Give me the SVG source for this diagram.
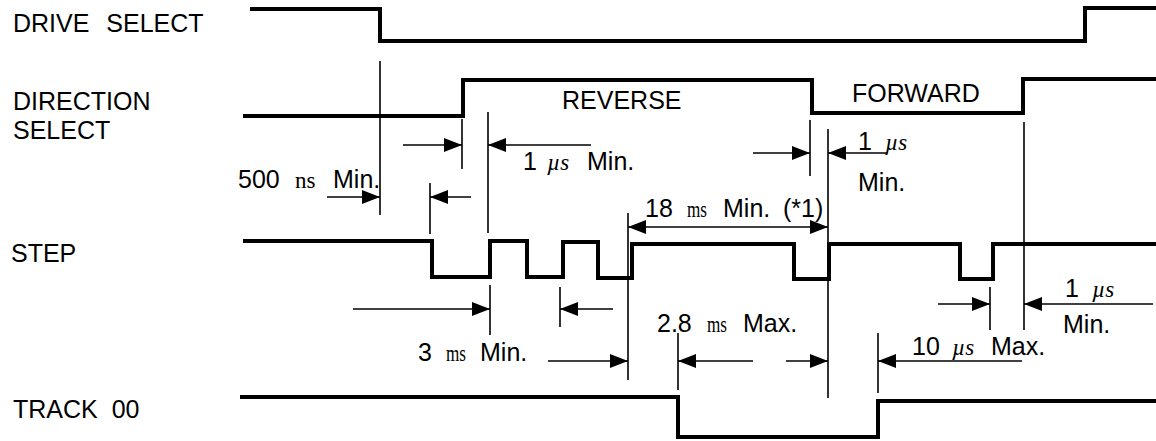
<svg xmlns="http://www.w3.org/2000/svg" width="1156" height="441" viewBox="0 0 1156 441">
<style>
.sig{fill:none;stroke:#000;stroke-width:4;stroke-linejoin:miter;stroke-linecap:square}
.dim{fill:none;stroke:#000;stroke-width:1.6}
.lbl{font-family:"Liberation Sans",Arial,sans-serif;font-size:25px;fill:#000}
.u{font-family:"Liberation Serif","Times New Roman",serif;font-size:23px;fill:#000}
.mu{font-family:"Liberation Serif","Times New Roman",serif;font-size:23px;font-style:italic;fill:#000}
</style>
<defs>
<marker id="ah" viewBox="0 0 18 14" markerUnits="userSpaceOnUse" markerWidth="18" markerHeight="14" refX="18" refY="7" orient="auto" overflow="visible">
<path d="M0,0 L18,7 L0,14 Z" fill="#000" stroke="none"/>
</marker>
</defs>
<rect width="1156" height="441" fill="#fff"/>
<g id="drive-select">
<text class="lbl" x="13" y="32" word-spacing="10">DRIVE SELECT</text>
<polyline class="sig" points="252,9 380,9 380,41 1085,41 1085,8 1158,8"/>
</g>
<g id="direction-select">
<text class="lbl" x="13" y="110">DIRECTION</text>
<text class="lbl" x="13" y="139">SELECT</text>
<polyline class="sig" points="245,116 463,116 463,80 812,80 812,113 1023,113 1023,79 1158,79"/>
<text class="lbl" x="562" y="109">REVERSE</text>
<text class="lbl" x="852" y="102">FORWARD</text>
</g>
<g id="step">
<text class="lbl" x="11" y="262">STEP</text>
<polyline class="sig" points="245,241 432,241 432,277 490,277 490,241 527,241 527,277 563,277 563,242 598,242 598,278 632,278 632,244 794,244 794,279 829,279 829,244 960,244 960,279 993,279 993,244 1158,244"/>
</g>
<g id="track-00">
<text class="lbl" x="13" y="418" word-spacing="7">TRACK 00</text>
<polyline class="sig" points="242,397 678,397 678,437 878,437 878,401 1158,401"/>
</g>
<g id="connectors">
<line class="dim" x1="380" y1="61" x2="380" y2="215"/>
<line class="dim" x1="462" y1="119" x2="462" y2="169"/>
<line class="dim" x1="488" y1="112" x2="488" y2="233"/>
<line class="dim" x1="430" y1="183" x2="430" y2="234"/>
<line class="dim" x1="490" y1="285" x2="490" y2="335"/>
<line class="dim" x1="560" y1="287" x2="560" y2="327"/>
<line class="dim" x1="628" y1="213" x2="628" y2="380"/>
<line class="dim" x1="810" y1="120" x2="810" y2="176"/>
<line class="dim" x1="828" y1="129" x2="828" y2="398"/>
<line class="dim" x1="1024" y1="122" x2="1024" y2="330"/>
<line class="dim" x1="990" y1="287" x2="990" y2="330"/>
<line class="dim" x1="678" y1="333" x2="678" y2="390"/>
<line class="dim" x1="878" y1="333" x2="878" y2="393"/>
<line class="dim" marker-end="url(#ah)" x1="403" y1="145" x2="462" y2="145"/>
<line class="dim" marker-end="url(#ah)" x1="591" y1="145" x2="488" y2="145"/>
<line class="dim" marker-end="url(#ah)" x1="327" y1="197" x2="380" y2="197"/>
<line class="dim" marker-end="url(#ah)" x1="471" y1="197" x2="430" y2="197"/>
<line class="dim" marker-end="url(#ah)" x1="353" y1="309" x2="490" y2="309"/>
<line class="dim" marker-end="url(#ah)" x1="613" y1="309" x2="560" y2="309"/>
<line class="dim" marker-end="url(#ah)" x1="700" y1="227" x2="628" y2="227"/>
<line class="dim" marker-end="url(#ah)" x1="700" y1="227" x2="828" y2="227"/>
<line class="dim" marker-end="url(#ah)" x1="753" y1="153" x2="810" y2="153"/>
<line class="dim" marker-end="url(#ah)" x1="887" y1="153" x2="828" y2="153"/>
<line class="dim" marker-end="url(#ah)" x1="938" y1="304" x2="990" y2="304"/>
<line class="dim" marker-end="url(#ah)" x1="1153" y1="304" x2="1024" y2="304"/>
<line class="dim" marker-end="url(#ah)" x1="548" y1="361" x2="628" y2="361"/>
<line class="dim" marker-end="url(#ah)" x1="753" y1="361" x2="678" y2="361"/>
<line class="dim" marker-end="url(#ah)" x1="786" y1="361" x2="828" y2="361"/>
<line class="dim" marker-end="url(#ah)" x1="1022" y1="361" x2="878" y2="361"/>
</g>
<g id="labels">
<text class="lbl" x="523" y="170">1</text><text class="mu" x="547" y="170">µs</text><text class="lbl" x="587" y="170">Min.</text>
<text class="lbl" x="238" y="188">500</text><text class="u" x="295" y="188">ns</text><text class="lbl" x="333" y="188">Min.</text>
<text class="lbl" x="645" y="217">18</text><text class="u" x="687" y="217" textLength="20" lengthAdjust="spacingAndGlyphs">ms</text><text class="lbl" x="723" y="217">Min.</text><text class="lbl" x="783" y="217">(*1)</text>
<text class="lbl" x="858" y="150">1</text><text class="mu" x="885" y="150">µs</text><text class="lbl" x="858" y="191">Min.</text>
<text class="lbl" x="418" y="361">3</text><text class="u" x="446" y="361" textLength="20" lengthAdjust="spacingAndGlyphs">ms</text><text class="lbl" x="480" y="361">Min.</text>
<text class="lbl" x="657" y="332">2.8</text><text class="u" x="707" y="332" textLength="20" lengthAdjust="spacingAndGlyphs">ms</text><text class="lbl" x="743" y="332">Max.</text>
<text class="lbl" x="912" y="355">10</text><text class="mu" x="952" y="355">µs</text><text class="lbl" x="991" y="355">Max.</text>
<text class="lbl" x="1065" y="297">1</text><text class="mu" x="1092" y="297">µs</text><text class="lbl" x="1063" y="333">Min.</text>
</g>
</svg>
